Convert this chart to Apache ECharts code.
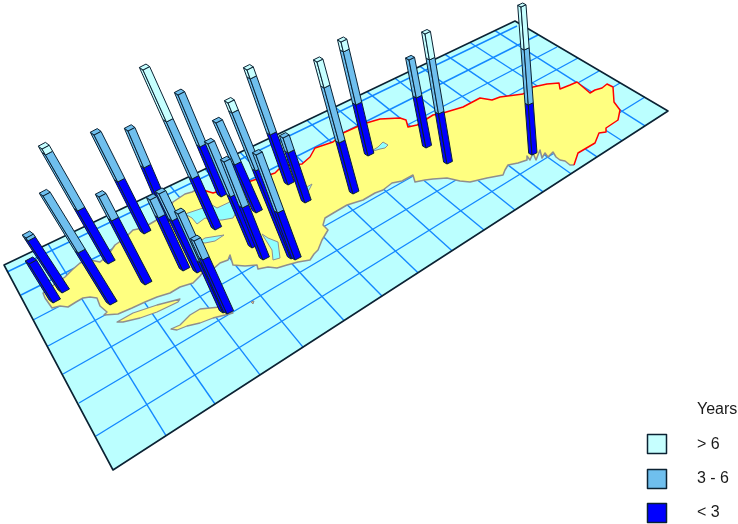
<!DOCTYPE html>
<html><head><meta charset="utf-8">
<style>html,body{margin:0;padding:0;background:#fff}#c{width:738px;height:524px}</style>
<script src="https://cdn.jsdelivr.net/npm/echarts@6/dist/echarts.min.js"></script>
</head><body><div id="c"></div>
<script>
// map plate
const plate = [[4,265],[113,470],[668,111],[515,21]];
// grid: long lines from left edge to right edge
const longStart = [[7,272],[21,295],[33,320],[48,346],[63,374],[79,403],[96,436]];
const longEnd = [[517,26],[538,35],[557,47],[578,58],[599,71],[620,83],[645,97]];
// grid: short lines, top edge x -> bottom edge x
const shortTopX = [48,90,130,170,205,240,275,307,335,367,395,420,445,470,495];
const shortBottomX = [166,215,260,303,344,382,418,452,484,515,543,571,597,622,645];
// coast
const redCoast = [[574,165],[578,153],[595,143],[599,133],[606,132],[606,128],[618,120],[620,110],[614,102],[613,87],[607,84],[602,88],[595,90],[590,93],[583,87],[577,82],[570,85],[560,89],[559,83],[547,84],[533,87],[523,94],[500,97],[492,100],[480,98],[463,107],[443,113],[433,115],[417,125],[408,127],[406,120],[400,118],[380,119],[363,124],[343,133],[333,142],[315,148],[310,157],[302,164],[283,165],[275,173],[245,183],[213,193],[203,190],[202,187]];
const grayCoast = [[202,187],[192,192],[185,194],[173,202],[170,208],[172,212],[160,218],[143,228],[133,230],[125,238],[115,245],[108,255],[100,262],[90,260],[80,263],[72,270],[65,277],[55,284],[43,293],[45,298],[52,308],[60,306],[68,307],[76,302],[83,298],[90,297],[97,298],[100,306],[107,312],[104,315],[118,314],[132,308],[145,302],[157,297],[170,293],[180,287],[193,283],[200,276],[203,272],[212,270],[220,263],[228,260],[230,255],[233,265],[245,266],[257,265],[258,269],[268,267],[277,268],[287,265],[298,262],[310,260],[314,254],[318,250],[322,240],[328,230],[323,225],[325,218],[335,212],[347,205],[363,200],[375,193],[383,190],[392,183],[402,181],[413,175],[415,182],[425,180],[433,179],[447,178],[460,181],[470,182],[487,178],[503,175],[505,170],[508,165],[518,163],[527,160],[527,156],[530,160],[533,153],[536,160],[540,150],[542,158],[545,153],[548,157],[553,152],[556,157],[560,160],[565,161],[570,165],[574,165]];
const island1 = [[117,322],[133,313],[157,305],[180,299],[178,302],[157,312],[140,318],[123,322]];
const island2 = [[171,329],[180,325],[190,315],[200,309],[220,307],[233,313],[213,318],[200,323],[187,326],[177,330]];
const islet = [[251,302],[254,301],[253,304]];
const lake1 = [[185,214],[197,210],[212,205],[217,208],[232,201],[240,205],[233,218],[222,220],[213,220],[205,218],[197,224],[192,218]];
const lake2 = [[199,242],[205,238],[224,235],[215,241],[205,243]];
const lake3 = [[262,234],[268,238],[278,242],[280,258],[273,260],[272,250],[267,242]];
const lake4 = [[370,152],[378,147],[383,142],[388,145],[385,148],[380,149]];
const lake5 = [[300,196],[307,187],[312,184],[309,190],[305,193]];
// columns: base point, top point, and the length of each class
const barBaseX = [53,62,110,108,145,144,167,183,197,223,227,215,221,252,256,291,263,295,288,305,353,368,426,447,532];
const barBaseY = [303,293,305,264,285,234,222,271,273,313,314,230,197,248,213,259,260,260,185,203,194,156,148,164,155];
const barTopX  = [29,26,43,42,99,94,128,150,159,178,194,143,178,208,216,228,224,256,247,283,317,341,409,425,521];
const barLow   = [39,52,52,53,64,52,54,53,52,50,54,51,50,51,48,88,52,47,50,50,51,51,50,50,50];
const barMid   = [0,3,57,56,24,47,37,18,27,49,19,57,52,53,42,58,46,58,56,15,55,53,38,54,55];
const barHigh  = [0,0,0,6,0,0,0,0,0,0,0,52,0,0,0,10,0,0,9,0,26,10,0,26,43];
// legend
const legendTitle = 'Years';
const legendLabels = ['> 6','3 - 6','< 3'];
const classColors = ['#c6ffff','#6fbfee','#0000ff'];

const edge = '#0b2233', gridBlue = '#1488ff', coastGray = '#8e8e8e';
const chart = echarts.init(document.getElementById('c'), null, {renderer:'canvas'});

function layer(build){
  return {type:'custom', coordinateSystem:'cartesian2d', silent:true, animation:false, clip:false,
    data:[[0,0]], renderItem:function(p,api){
      const P = a => a.map(c => api.coord(c));
      return {type:'group', children: build(P, api)};
    }};
}
const poly = (pts,fill,stroke,w) => ({type:'polygon',shape:{points:pts},style:{fill:fill,stroke:stroke||null,lineWidth:w||0,lineJoin:'round'}});
const pline = (pts,stroke,w) => ({type:'polyline',shape:{points:pts},style:{fill:null,stroke:stroke,lineWidth:w,lineJoin:'round'}});

function topEdgeY(x){return 265+(x-4)*(21-265)/(515-4);}
function botEdgeY(x){return 470+(x-113)*(111-470)/(668-113);}

const barOrder = barBaseX.map((_,i)=>i).sort((a,b)=>barBaseY[a]-barBaseY[b]);
function barShapes(P,i){
  const bx=barBaseX[i],by=barBaseY[i],tx=barTopX[i];
  const total=barLow[i]+barMid[i]+barHigh[i];
  const ty=by-total;
  const t=(bx-50)/480;
  const u=[7.5-2.5*t,-4+1.7*t], v=[-3.8+0.5*t,-3+1.3*t];
  const at=h=>{const f=h/total;return [bx+(tx-bx)*f, by+(ty-by)*f];};
  const segs=[[0,barLow[i],2],[barLow[i],barLow[i]+barMid[i],1],[barLow[i]+barMid[i],total,0]];
  const out=[];
  segs.forEach(s=>{
    if(s[1]-s[0]<=0) return;
    const a=at(s[0]),b=at(s[1]);
    const col=classColors[s[2]];
    out.push(poly(P([[a[0]+v[0],a[1]+v[1]],a,b,[b[0]+v[0],b[1]+v[1]]]),col,edge,1));
    out.push(poly(P([a,[a[0]+u[0],a[1]+u[1]],[b[0]+u[0],b[1]+u[1]],b]),col,edge,1));
  });
  const top=at(total);
  const topCol=classColors[barHigh[i]>0?0:(barMid[i]>0?1:2)];
  out.push(poly(P([top,[top[0]+u[0],top[1]+u[1]],[top[0]+u[0]+v[0],top[1]+u[1]+v[1]],[top[0]+v[0],top[1]+v[1]]]),topCol,edge,1));
  return out;
}

const series=[
  layer(P=>[poly(P(plate),'#bbffff')]),
  layer(P=>{
    const o=[];
    longStart.forEach((s,i)=>o.push(pline(P([s,longEnd[i]]),gridBlue,1.4)));
    shortTopX.forEach((x,i)=>o.push(pline(P([[x,topEdgeY(x)],[shortBottomX[i],botEdgeY(shortBottomX[i])]]),gridBlue,1.4)));
    return o;
  }),
  layer(P=>[
    poly(P(redCoast.concat(grayCoast)),'#ffff80'),
    pline(P(grayCoast),coastGray,1.5),
    pline(P(redCoast),'#ff0000',1.5),
    poly(P(island1),'#ffff80',coastGray,1.3),
    poly(P(island2),'#ffff80',coastGray,1.3),
    poly(P(islet),'#e0c080',coastGray,1),
    poly(P(lake1),'#90ffff',coastGray,1),
    poly(P(lake2),'#90ffff',coastGray,1),
    poly(P(lake3),'#90ffff',coastGray,1),
    poly(P(lake4),'#90ffff',coastGray,1),
    poly(P(lake5),'#90ffff',coastGray,1)
  ]),
  layer(P=>[poly(P(plate),null,edge,1.6)]),
  layer(P=>{
    const o=[];
    barOrder.forEach(i=>barShapes(P,i).forEach(s=>o.push(s)));
    return o;
  }),
  layer((P)=>{
    const o=[];
    const tp=P([[697,410]])[0];
    o.push({type:'text',style:{text:legendTitle,x:tp[0],y:tp[1],fill:'#1a1a1a',font:'16px "Liberation Sans", Arial, sans-serif',textVerticalAlign:'middle'}});
    const rows=[[434,445],[469,479],[503,513]];
    legendLabels.forEach((l,i)=>{
      const r=rows[i];
      const a=P([[647.5,r[0]+0.5],[666.5,r[0]+0.5],[666.5,r[0]+19.5],[647.5,r[0]+19.5]]);
      o.push(poly(a,classColors[i],edge,1.5));
      const t=P([[697,r[1]]])[0];
      o.push({type:'text',style:{text:l,x:t[0],y:t[1],fill:'#1a1a1a',font:'16px "Liberation Sans", Arial, sans-serif',textVerticalAlign:'middle'}});
    });
    return o;
  })
];
chart.setOption({
  animation:false,
  grid:{left:0,right:0,top:0,bottom:0},
  xAxis:{type:'value',min:0,max:738,show:false},
  yAxis:{type:'value',min:0,max:524,inverse:true,show:false},
  series:series
});
</script></body></html>
